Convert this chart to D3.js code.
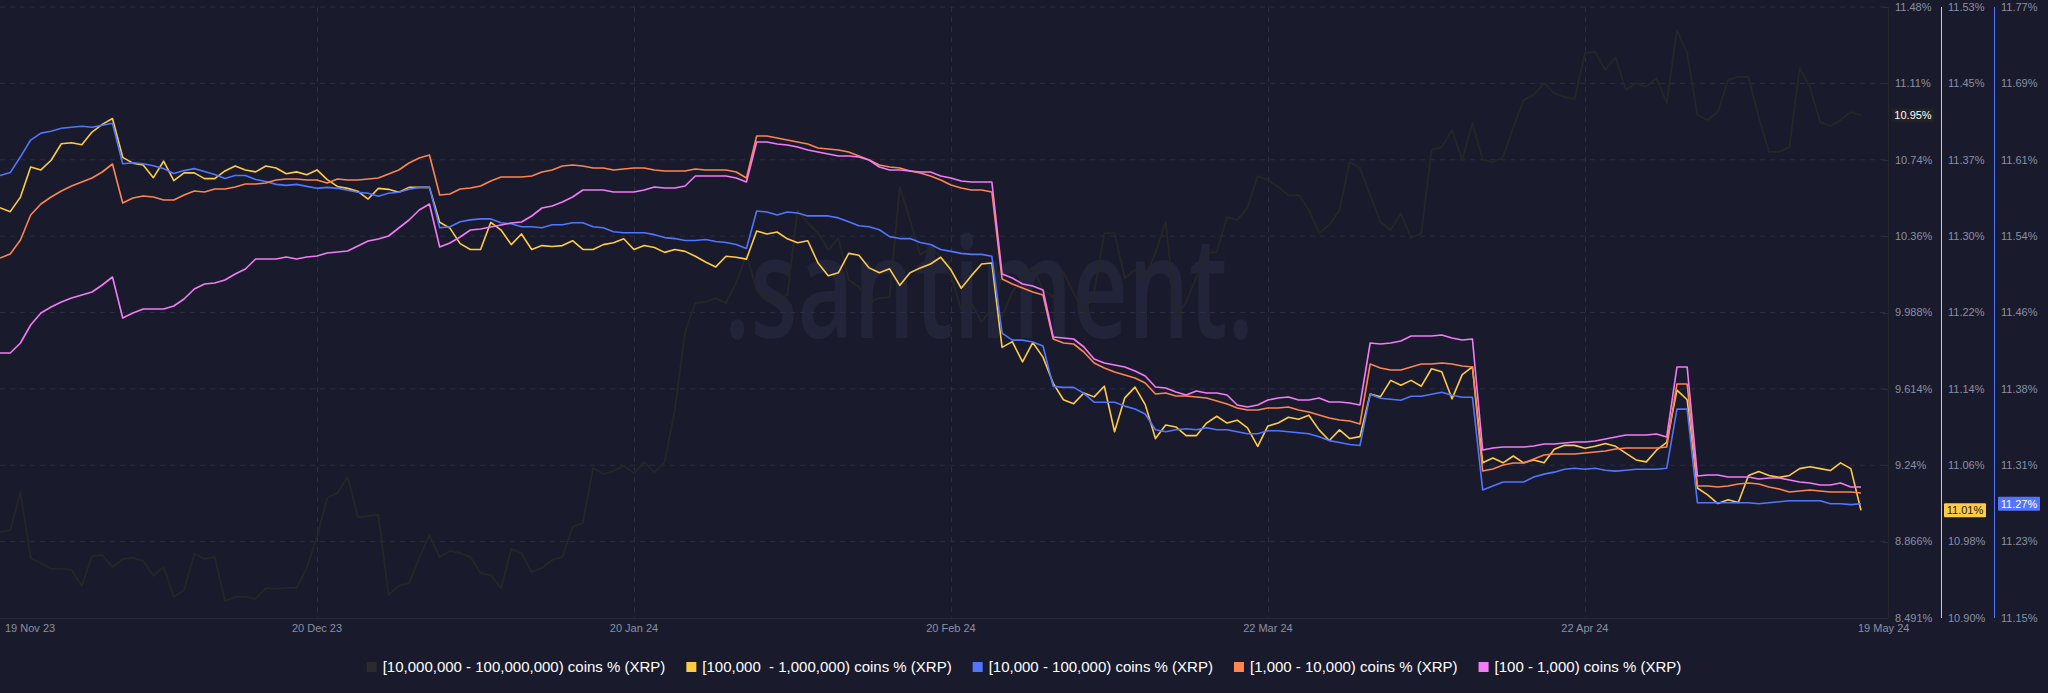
<!DOCTYPE html>
<html><head><meta charset="utf-8">
<script src="https://cdn.jsdelivr.net/npm/d3@7"></script>
<style>
html,body{margin:0;padding:0;background:#191b2c;}
svg{display:block;}
</style></head><body>
<svg id="chart" width="2048" height="693"></svg>
<script>
// ---------- DATA ----------
const startDate = "2023-11-19";
const dayCount = 183;
const xTickDates = ["2023-11-19","2023-12-20","2024-01-20","2024-02-20","2024-03-22","2024-04-22","2024-05-19"];
const xTickLabels = ["19 Nov 23","20 Dec 23","20 Jan 24","20 Feb 24","22 Mar 24","22 Apr 24","19 May 24"];

const seriesNames = [
  "[10,000,000 - 100,000,000) coins % (XRP)",
  "[100,000  - 1,000,000) coins % (XRP)",
  "[10,000 - 100,000) coins % (XRP)",
  "[1,000 - 10,000) coins % (XRP)",
  "[100 - 1,000) coins % (XRP)"
];

const holders10M = [
8.912,8.921,9.107,8.785,8.760,8.731,8.731,8.726,8.648,8.794,
8.799,8.740,8.780,8.785,8.770,8.697,8.740,8.594,8.628,8.804,
8.780,8.789,8.574,8.594,8.594,8.584,8.638,8.633,8.638,8.638,
8.736,8.887,9.078,9.103,9.181,8.985,8.990,8.995,8.604,8.648,
8.662,8.785,8.897,8.789,8.819,8.809,8.789,8.711,8.701,8.638,
8.829,8.809,8.716,8.736,8.775,8.789,8.936,8.956,9.225,9.195,
9.210,9.235,9.200,9.254,9.205,9.254,9.509,9.890,10.032,10.037,
10.056,10.032,10.130,10.267,10.096,10.047,10.037,10.071,10.487,10.423,
10.374,10.291,10.350,10.145,10.110,10.037,10.056,10.061,10.600,10.438,
10.267,10.301,10.257,10.169,9.998,10.032,9.939,10.008,9.964,10.086,
10.154,10.208,10.096,10.061,10.184,10.081,9.988,10.081,10.374,10.374,
10.154,10.193,10.159,10.277,10.428,9.959,10.037,10.159,10.277,10.282,
10.453,10.438,10.497,10.653,10.634,10.600,10.560,10.560,10.487,10.374,
10.414,10.487,10.722,10.692,10.560,10.428,10.389,10.472,10.350,10.374,
10.781,10.795,10.878,10.732,10.913,10.732,10.722,10.746,10.893,11.025,
11.050,11.108,11.059,11.040,11.030,11.255,11.260,11.172,11.235,11.074,
11.108,11.089,11.133,11.010,11.368,11.255,10.952,10.927,10.966,11.123,
11.138,11.138,10.942,10.771,10.771,10.795,11.182,11.089,10.917,10.898,
10.927,10.966,10.950];

const holders100k = [
11.323,11.319,11.334,11.365,11.362,11.372,11.389,11.390,11.388,11.401,
11.409,11.415,11.375,11.369,11.367,11.354,11.371,11.351,11.359,11.359,
11.353,11.353,11.361,11.366,11.362,11.360,11.366,11.364,11.358,11.360,
11.357,11.362,11.352,11.345,11.343,11.340,11.332,11.343,11.342,11.339,
11.344,11.344,11.344,11.308,11.302,11.286,11.280,11.280,11.308,11.300,
11.285,11.296,11.280,11.284,11.283,11.284,11.289,11.280,11.280,11.285,
11.287,11.291,11.280,11.284,11.282,11.277,11.280,11.278,11.273,11.267,
11.262,11.273,11.272,11.270,11.299,11.296,11.298,11.291,11.287,11.289,
11.266,11.253,11.256,11.276,11.274,11.261,11.256,11.260,11.243,11.256,
11.261,11.265,11.272,11.259,11.240,11.253,11.265,11.266,11.179,11.185,
11.164,11.184,11.169,11.142,11.125,11.121,11.132,11.128,11.139,11.092,
11.127,11.138,11.120,11.085,11.099,11.097,11.088,11.088,11.101,11.108,
11.101,11.104,11.096,11.077,11.098,11.101,11.107,11.105,11.109,11.094,
11.083,11.094,11.085,11.087,11.131,11.128,11.145,11.140,11.145,11.139,
11.157,11.154,11.126,11.151,11.159,11.060,11.065,11.060,11.067,11.060,
11.063,11.060,11.074,11.078,11.078,11.075,11.077,11.080,11.077,11.070,
11.063,11.061,11.073,11.081,11.135,11.125,11.034,11.027,11.018,11.022,
11.019,11.047,11.051,11.047,11.045,11.047,11.054,11.056,11.054,11.052,
11.060,11.054,11.011];

const holders10k = [
11.599,11.602,11.618,11.635,11.642,11.644,11.647,11.648,11.649,11.648,
11.650,11.652,11.611,11.612,11.611,11.609,11.606,11.601,11.604,11.606,
11.603,11.600,11.596,11.599,11.599,11.595,11.593,11.590,11.589,11.590,
11.588,11.586,11.587,11.586,11.584,11.582,11.581,11.578,11.581,11.582,
11.585,11.587,11.587,11.546,11.547,11.552,11.554,11.555,11.555,11.551,
11.550,11.547,11.547,11.546,11.549,11.549,11.551,11.551,11.547,11.546,
11.542,11.541,11.541,11.541,11.539,11.536,11.535,11.533,11.533,11.534,
11.532,11.531,11.529,11.525,11.563,11.562,11.559,11.562,11.561,11.558,
11.558,11.558,11.556,11.552,11.548,11.547,11.544,11.537,11.535,11.535,
11.531,11.529,11.524,11.522,11.520,11.519,11.519,11.517,11.439,11.432,
11.432,11.430,11.426,11.385,11.384,11.384,11.378,11.369,11.369,11.369,
11.365,11.362,11.357,11.341,11.339,11.341,11.342,11.341,11.343,11.341,
11.341,11.339,11.337,11.337,11.340,11.340,11.339,11.338,11.337,11.334,
11.330,11.328,11.326,11.325,11.377,11.373,11.372,11.371,11.375,11.375,
11.377,11.379,11.376,11.374,11.374,11.280,11.284,11.288,11.288,11.288,
11.293,11.296,11.298,11.301,11.302,11.301,11.302,11.300,11.299,11.300,
11.301,11.301,11.301,11.302,11.362,11.362,11.267,11.267,11.267,11.267,
11.267,11.267,11.266,11.267,11.268,11.269,11.269,11.269,11.269,11.266,
11.266,11.265,11.266];

const holders1k = [
2.860,2.864,2.878,2.903,2.914,2.921,2.927,2.932,2.936,2.940,
2.946,2.954,2.915,2.920,2.922,2.921,2.918,2.918,2.923,2.927,
2.926,2.929,2.929,2.931,2.934,2.934,2.935,2.938,2.939,2.939,
2.938,2.938,2.935,2.939,2.938,2.938,2.939,2.940,2.944,2.948,
2.955,2.960,2.963,2.923,2.924,2.929,2.930,2.932,2.937,2.941,
2.941,2.941,2.942,2.946,2.948,2.952,2.953,2.952,2.950,2.950,
2.948,2.949,2.950,2.950,2.948,2.947,2.947,2.947,2.949,2.948,
2.948,2.948,2.946,2.940,2.982,2.982,2.980,2.978,2.976,2.974,
2.970,2.969,2.968,2.966,2.962,2.958,2.953,2.951,2.950,2.947,
2.945,2.942,2.938,2.933,2.930,2.928,2.928,2.926,2.839,2.834,
2.830,2.826,2.823,2.779,2.775,2.774,2.766,2.755,2.750,2.746,
2.743,2.740,2.735,2.724,2.725,2.722,2.722,2.721,2.720,2.717,
2.714,2.710,2.708,2.708,2.710,2.710,2.711,2.708,2.706,2.703,
2.700,2.698,2.697,2.694,2.754,2.750,2.748,2.748,2.751,2.754,
2.754,2.755,2.754,2.752,2.751,2.647,2.649,2.653,2.655,2.655,
2.659,2.663,2.664,2.664,2.664,2.665,2.666,2.667,2.669,2.670,
2.670,2.670,2.670,2.671,2.734,2.734,2.632,2.632,2.631,2.632,
2.634,2.635,2.634,2.631,2.629,2.626,2.627,2.628,2.627,2.626,
2.626,2.626,2.625];

const holders100 = [
0.665,0.665,0.675,0.693,0.705,0.711,0.716,0.720,0.723,0.726,
0.733,0.741,0.700,0.705,0.709,0.709,0.709,0.712,0.719,0.729,
0.734,0.735,0.738,0.744,0.749,0.759,0.759,0.759,0.761,0.759,
0.761,0.762,0.765,0.766,0.767,0.772,0.777,0.779,0.782,0.790,
0.798,0.808,0.814,0.771,0.775,0.781,0.788,0.789,0.791,0.793,
0.795,0.796,0.802,0.810,0.812,0.816,0.821,0.828,0.828,0.828,
0.826,0.826,0.826,0.828,0.831,0.830,0.830,0.832,0.842,0.842,
0.842,0.842,0.840,0.836,0.876,0.876,0.874,0.873,0.871,0.868,
0.866,0.864,0.862,0.862,0.861,0.858,0.851,0.848,0.848,0.847,
0.846,0.846,0.842,0.840,0.837,0.836,0.836,0.836,0.744,0.740,
0.734,0.732,0.728,0.681,0.680,0.679,0.671,0.659,0.655,0.653,
0.651,0.647,0.642,0.631,0.630,0.626,0.623,0.627,0.625,0.625,
0.623,0.613,0.611,0.613,0.618,0.620,0.621,0.618,0.618,0.620,
0.616,0.616,0.615,0.613,0.675,0.674,0.675,0.677,0.682,0.682,
0.682,0.683,0.680,0.678,0.679,0.568,0.570,0.571,0.571,0.571,
0.572,0.574,0.574,0.575,0.576,0.576,0.577,0.579,0.581,0.583,
0.583,0.583,0.584,0.581,0.651,0.651,0.542,0.543,0.543,0.541,
0.541,0.541,0.539,0.540,0.540,0.538,0.536,0.535,0.533,0.533,
0.535,0.531,0.531];

// axis domains & tick labels
const domain10M = [8.491, 11.48];
const domain100k = [10.90, 11.53];
const domain10k = [11.15, 11.77];
const domain1k = [2.50, 3.111];   // hidden axis
const domain100 = [0.40, 1.011];  // hidden axis
const ticks10M = ["8.491%","8.866%","9.24%","9.614%","9.988%","10.36%","10.74%","11.11%","11.48%"];
const ticks100k = ["10.90%","10.98%","11.06%","11.14%","11.22%","11.30%","11.37%","11.45%","11.53%"];
const ticks10k = ["11.15%","11.23%","11.31%","11.38%","11.46%","11.54%","11.61%","11.69%","11.77%"];

const colors = ["#262626","#ffcb47","#5275ff","#ff8450","#f47bf7"];

// ---------- LAYOUT ----------
const W = 2048, H = 693;
const plotTop = 7, plotBottom = 618, plotRight = 1888;
const bg = "#191b2c", gridColor = "#2a2e42", axisText = "#8a90a3";
const svg = d3.select("#chart");
svg.append("rect").attr("width", W).attr("height", H).attr("fill", bg);

const parse = d3.utcParse("%Y-%m-%d");
const t0 = parse(startDate);
const dates = d3.range(dayCount).map(i => d3.utcDay.offset(t0, i));
const x = d3.scaleUtc().domain([dates[0], dates[dates.length - 1]]).range([0, 1861]);

const mkY = dom => d3.scaleLinear().domain(dom).range([plotBottom, plotTop]);
const y10M = mkY(domain10M), y100k = mkY(domain100k), y10k = mkY(domain10k),
      y1k = mkY(domain1k), y100 = mkY(domain100);
const evenTicks = dom => d3.range(9).map(i => dom[0] + i * (dom[1] - dom[0]) / 8);

// watermark
svg.append("text")
  .attr("x", 989).attr("y", 338)
  .attr("text-anchor", "middle")
  .attr("font-family", "Open Sans, sans-serif")
  .attr("font-weight", 600)
  .attr("font-size", 142)
  .attr("textLength", 530).attr("lengthAdjust", "spacingAndGlyphs")
  .attr("fill", "#22253a")
  .text(".santiment.");

// horizontal grid
const gTicks = evenTicks(domain10M);
svg.append("g").selectAll("line").data(gTicks.slice(1)).join("line")
  .attr("x1", 0).attr("x2", plotRight)
  .attr("y1", d => y10M(d)).attr("y2", d => y10M(d))
  .attr("stroke", gridColor).attr("stroke-width", 1).attr("stroke-dasharray", "5,5");
svg.append("line").attr("x1", 0).attr("x2", plotRight)
  .attr("y1", plotBottom + 0.5).attr("y2", plotBottom + 0.5)
  .attr("stroke", "#262a3d").attr("stroke-width", 1);

// vertical grid
const tickDates = xTickDates.map(parse);
svg.append("g").selectAll("line").data(tickDates.slice(1, -1)).join("line")
  .attr("x1", d => Math.round(x(d)) + 0.5).attr("x2", d => Math.round(x(d)) + 0.5)
  .attr("y1", plotTop).attr("y2", plotBottom)
  .attr("stroke", gridColor).attr("stroke-width", 1).attr("stroke-dasharray", "5,5");

// x labels
svg.append("g").selectAll("text").data(tickDates).join("text")
  .attr("x", (d, i) => i === 0 ? x(d) + 5 : (i === tickDates.length - 1 ? x(d) - 3 : x(d)))
  .attr("y", 632)
  .attr("text-anchor", (d, i) => (i === 0 || i === tickDates.length - 1) ? "start" : "middle")
  .attr("font-family", "Liberation Sans, Arial, sans-serif")
  .attr("font-size", 11).attr("fill", axisText)
  .text((d, i) => xTickLabels[i]);

// lines
const seriesData = [
  {vals: holders10M, y: y10M},
  {vals: holders100k, y: y100k},
  {vals: holders10k, y: y10k},
  {vals: holders1k, y: y1k},
  {vals: holders100, y: y100}
];
seriesData.forEach((s, i) => {
  const line = d3.line().x((d, j) => x(dates[j])).y(d => s.y(d));
  svg.append("path").datum(s.vals)
    .attr("d", line).attr("fill", "none")
    .attr("stroke", colors[i]).attr("stroke-width", i === 0 ? 1.8 : 1.6)
    .attr("stroke-linejoin", "round");
});

// right axes
function drawAxis(xLine, lineColor, dom, labels, tickMarks) {
  const g = svg.append("g");
  g.append("line").attr("x1", xLine + 0.5).attr("x2", xLine + 0.5)
    .attr("y1", plotTop).attr("y2", plotBottom)
    .attr("stroke", lineColor).attr("stroke-width", 1);
  const tv = evenTicks(dom);
  const sc = mkY(dom);
  if (tickMarks) {
    g.selectAll("line.tk").data(tv).join("line").attr("class", "tk")
      .attr("x1", xLine - 5).attr("x2", xLine)
      .attr("y1", d => Math.round(sc(d)) + 0.5).attr("y2", d => Math.round(sc(d)) + 0.5)
      .attr("stroke", "#2a2c36");
  }
  g.selectAll("text").data(tv).join("text")
    .attr("x", xLine + 7).attr("y", d => sc(d))
    .attr("dy", "0.35em")
    .attr("font-family", "Liberation Sans, Arial, sans-serif")
    .attr("font-size", 11).attr("fill", axisText)
    .text((d, i) => labels[i]);
}
drawAxis(plotRight, "#26272c", domain10M, ticks10M, true);
drawAxis(1941, colors[1], domain100k, ticks100k, false);
drawAxis(1994, colors[2], domain10k, ticks10k, false);

// last value labels
function lastLabel(xLeft, w, val, sc, fill, txtColor) {
  const yc = sc(val);
  svg.append("rect").attr("x", xLeft).attr("y", yc - 7).attr("width", w).attr("height", 14)
    .attr("fill", fill).attr("rx", 1);
  svg.append("text").attr("x", xLeft + w / 2).attr("y", yc).attr("dy", "0.36em")
    .attr("text-anchor", "middle")
    .attr("font-family", "Liberation Sans, Arial, sans-serif")
    .attr("font-size", 11).attr("fill", txtColor)
    .text(val.toFixed(2) + "%");
}
lastLabel(1892, 42, holders10M[holders10M.length - 1], y10M, "#222226", "#ffffff");
lastLabel(1944, 42, holders100k[holders100k.length - 1], y100k, colors[1], "#1a1a1a");
lastLabel(1998, 42, holders10k[holders10k.length - 1], y10k, colors[2], "#ffffff");

// legend
const legendColors = ["#2b2b2d", colors[1], colors[2], colors[3], colors[4]];
const lg = svg.append("g");
const items = seriesNames.map((name, i) => {
  const g = lg.append("g");
  g.append("rect").attr("x", 0).attr("y", -5).attr("width", 10).attr("height", 10)
    .attr("fill", legendColors[i]);
  const t = g.append("text").attr("x", 16).attr("y", 0).attr("dy", "0.35em")
    .attr("font-family", "Liberation Sans, Arial, sans-serif")
    .attr("font-size", 15).attr("fill", "#ffffff")
    .style("white-space", "pre")
    .text(name);
  return {g, w: 16 + t.node().getComputedTextLength()};
});
const gap = 21;
const totalW = d3.sum(items, d => d.w) + gap * (items.length - 1);
let cx = W / 2 - totalW / 2;
items.forEach(it => { it.g.attr("transform", `translate(${cx},667)`); cx += it.w + gap; });
</script>
</body></html>
